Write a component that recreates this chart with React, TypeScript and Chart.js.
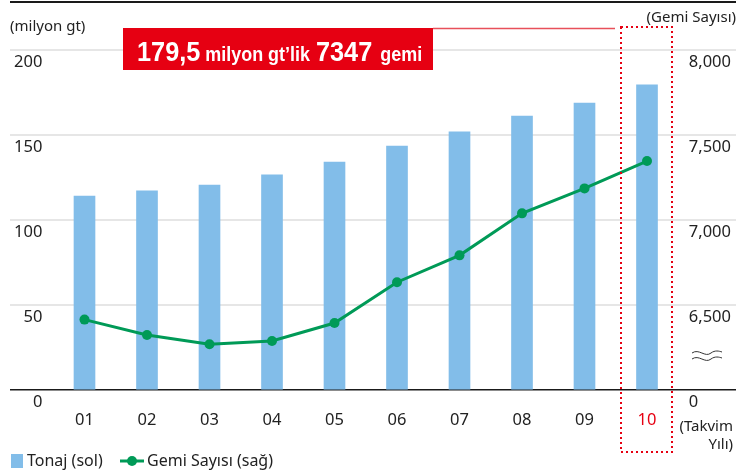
import React, { useEffect, useRef } from "react";
import { Chart, registerables } from "chart.js";

Chart.register(...registerables);

const categories = ["01", "02", "03", "04", "05", "06", "07", "08", "09", "10"];
const tonnage = [114.1, 117.1, 120.6, 126.5, 134.1, 143.5, 151.8, 161.2, 168.8, 179.5];
const ships = [6414, 6324, 6269, 6288, 6394, 6634, 6792, 7039, 7186, 7347];
const leftTicks = [0, 50, 100, 150, 200];
const rightTicks = [6000, 6500, 7000, 7500, 8000];

const FONT = "'Noto Sans', 'Open Sans', sans-serif";
const BOLD = "'Liberation Sans', Arial, sans-serif";
const TEXT = "#222222";
const RED = "#e60012";
const BLUE = "#82bde9";
const GREEN = "#009a57";

const decorPlugin = {
  id: "decor",
  afterDraw(chart: any) {
    const ctx = chart.ctx as CanvasRenderingContext2D;
    const area = chart.chartArea;
    const xs = chart.scales.x;
    ctx.save();

    // top black rule
    ctx.strokeStyle = "#1a1a1a";
    ctx.lineWidth = 2;
    ctx.beginPath();
    ctx.moveTo(area.left, 2);
    ctx.lineTo(area.right, 2);
    ctx.stroke();

    // unit labels
    ctx.fillStyle = TEXT;
    ctx.font = `15px ${FONT}`;
    ctx.textBaseline = "middle";
    ctx.textAlign = "left";
    ctx.fillText("(milyon gt)", area.left, 27);
    ctx.textAlign = "right";
    ctx.fillText("(Gemi Sayısı)", area.right, 18);

    // highlight box for last year
    const cx = xs.getPixelForValue(10);
    const rl = cx - 26;
    const rr = cx + 25;
    ctx.strokeStyle = RED;
    ctx.lineWidth = 2;
    ctx.setLineDash([2, 3]);
    ctx.strokeRect(rl, 27, rr - rl, 452 - 27);
    ctx.setLineDash([]);

    // red callout box
    const bx = 123, by = 28, bw = 310, bh = 42;
    ctx.strokeStyle = "#e8505a";
    ctx.lineWidth = 1.5;
    ctx.beginPath();
    ctx.moveTo(bx + bw, by + 0.5);
    ctx.lineTo(rl - 6, by + 0.5);
    ctx.stroke();
    ctx.fillStyle = RED;
    ctx.fillRect(bx, by, bw, bh);

    ctx.fillStyle = "#ffffff";
    ctx.textAlign = "left";
    ctx.textBaseline = "alphabetic";
    const parts: [string, number, number][] = [
      ["179,5", 27.5, 5],
      ["milyon gt’lik", 19.5, 6],
      ["7347", 27.5, 8],
      ["gemi", 19.5, 0],
    ];
    const sx = 0.92;
    let tx = 137;
    for (const [s, size, gap] of parts) {
      ctx.font = `bold ${size}px ${BOLD}`;
      ctx.save();
      ctx.translate(tx, 61);
      ctx.scale(sx, 1);
      ctx.fillText(s, 0, 0);
      ctx.restore();
      tx += ctx.measureText(s).width * sx + gap;
    }

    // axis break mark
    ctx.strokeStyle = "#333333";
    ctx.lineWidth = 1;
    for (const oy of [353, 359]) {
      ctx.beginPath();
      ctx.moveTo(692, oy);
      ctx.bezierCurveTo(699, oy - 5, 705, oy + 5, 711, oy);
      ctx.bezierCurveTo(715, oy - 3, 719, oy - 2, 722, oy - 1);
      ctx.stroke();
    }

    // x axis unit
    ctx.fillStyle = TEXT;
    ctx.font = `15px ${FONT}`;
    ctx.textBaseline = "middle";
    ctx.textAlign = "right";
    ctx.fillText("(Takvim", 733, 427);
    ctx.fillText("Yılı)", 733, 445);

    // legend
    ctx.fillStyle = BLUE;
    ctx.fillRect(11, 454, 12, 14);
    ctx.fillStyle = TEXT;
    ctx.font = `16px ${FONT}`;
    ctx.textAlign = "left";
    ctx.fillText("Tonaj (sol)", 27, 461);
    ctx.strokeStyle = GREEN;
    ctx.lineWidth = 3;
    ctx.beginPath();
    ctx.moveTo(120, 461);
    ctx.lineTo(144, 461);
    ctx.stroke();
    ctx.fillStyle = GREEN;
    ctx.beginPath();
    ctx.arc(132, 461, 5, 0, Math.PI * 2);
    ctx.fill();
    ctx.fillStyle = TEXT;
    ctx.fillText("Gemi Sayısı (sağ)", 147, 461);

    ctx.restore();
  },
};

const fitY = (s: any) => {
  s.width = 0;
  s.paddingTop = 0;
  s.paddingBottom = 0;
};

export default function App() {
  const ref = useRef<HTMLCanvasElement | null>(null);

  useEffect(() => {
    document.body.style.margin = "0";
    if (!ref.current) return;
    const chart = new Chart(ref.current, {
      type: "bar",
      data: {
        datasets: [
          {
            type: "line",
            label: "Gemi Sayısı (sağ)",
            data: ships.map((v, i) => ({ x: i + 1, y: v })),
            yAxisID: "y1",
            borderColor: GREEN,
            backgroundColor: GREEN,
            borderWidth: 3,
            pointRadius: 5,
            pointBackgroundColor: GREEN,
            pointBorderWidth: 0,
            tension: 0,
            order: 0,
          } as any,
          {
            type: "bar",
            label: "Tonaj (sol)",
            data: tonnage.map((v, i) => ({ x: i + 1, y: v })),
            yAxisID: "y",
            backgroundColor: BLUE,
            barThickness: 21,
            order: 1,
          } as any,
        ],
      },
      options: {
        responsive: false,
        animation: false,
        devicePixelRatio: 1,
        layout: { padding: { left: 10, right: 16, top: 50, bottom: 45 } },
        plugins: { legend: { display: false }, tooltip: { enabled: false } },
        scales: {
          x: {
            type: "linear",
            offset: false,
            bounds: "data",
            min: -0.192,
            max: 11.424,
            grid: { display: false, drawTicks: false, offset: false },
            border: { display: false },
            afterBuildTicks: (scale: any) => {
              scale.ticks = categories.map((_, i) => ({ value: i + 1 }));
            },
            afterFit: (s: any) => {
              s.height = 40;
              s.paddingLeft = 0;
              s.paddingRight = 0;
            },
            ticks: {
              autoSkip: false,
              maxRotation: 0,
              padding: 20,
              font: { family: FONT, size: 16.5, lineHeight: 1.2 },
              color: (c: any) => (c.index === categories.length - 1 ? RED : TEXT),
              callback: (v: any) => categories[Math.round(v) - 1] ?? "",
            },
          },
          y: {
            type: "linear",
            position: "left",
            min: 0,
            max: 200,
            afterBuildTicks: (scale: any) => {
              scale.ticks = leftTicks.map((v) => ({ value: v }));
            },
            afterFit: fitY,
            grid: {
              drawTicks: false,
              lineWidth: (c: any) => (c.tick && c.tick.value === 0 ? 1.5 : 2),
              color: (c: any) => (c.tick && c.tick.value === 0 ? "#1a1a1a" : "#e6e6e6"),
            },
            border: { display: false },
            ticks: {
              mirror: true,
              crossAlign: "far",
              padding: 4,
              color: TEXT,
              font: { family: FONT, size: 16.5, lineHeight: 1.45 },
              callback: (v: any) => ["", String(v)],
            },
          },
          y1: {
            type: "linear",
            position: "right",
            min: 6000,
            max: 8000,
            afterBuildTicks: (scale: any) => {
              scale.ticks = rightTicks.map((v) => ({ value: v }));
            },
            afterFit: fitY,
            grid: { display: false, drawTicks: false },
            border: { display: false },
            ticks: {
              mirror: true,
              crossAlign: "far",
              padding: -5,
              color: TEXT,
              font: { family: FONT, size: 16.5, lineHeight: 1.45 },
              callback: (v: any) => ["", v === 6000 ? "0" : Number(v).toLocaleString("en-US")],
            },
          },
        },
      } as any,
      plugins: [decorPlugin],
    });
    return () => chart.destroy();
  }, []);

  return (
    <div style={{ width: 752, height: 475 }}>
      <canvas ref={ref} width={752} height={475} style={{ display: "block" }} />
    </div>
  );
}
